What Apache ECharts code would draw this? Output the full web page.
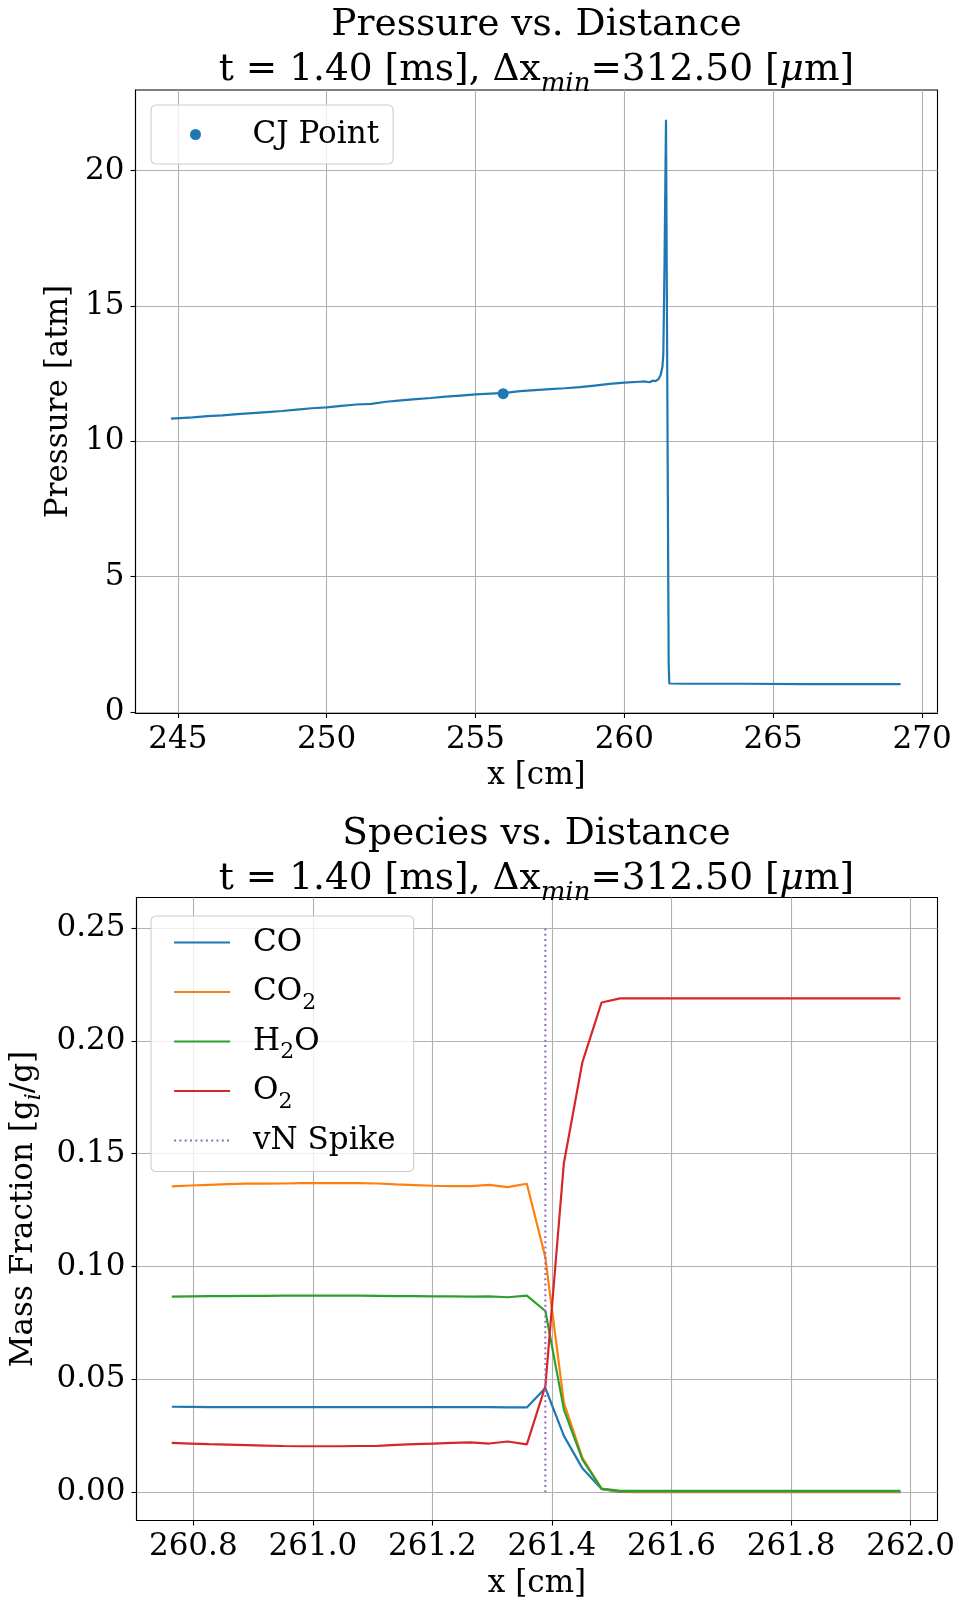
<!DOCTYPE html>
<html>
<head>
<meta charset="utf-8">
<script src="https://cdn.jsdelivr.net/npm/echarts@6/dist/echarts.min.js"></script>
<style>
  html, body { margin: 0; padding: 0; background: #ffffff; }
  #chart { width: 959px; height: 1602px; }
</style>
</head>
<body>
<div id="chart"></div>
<script>
// ---------- Pressure profile (top panel) ----------
const pressureX = [244.77, 245.5, 246.0, 246.5, 247.0, 247.5, 248.0, 248.5, 249.0, 249.5,
  250.0, 250.5, 251.0, 251.5, 252.0, 252.5, 253.0, 253.5, 254.0, 254.5,
  255.0, 255.5, 256.0, 256.5, 257.0, 257.5, 258.0, 258.5, 259.0, 259.5,
  260.0, 260.5, 260.7, 260.85, 260.95, 261.05, 261.15, 261.22, 261.28, 261.31,
  261.35, 261.40, 261.49, 261.51, 262.0, 264.0, 266.0, 268.0, 269.28];
const pressureY = [10.84, 10.88, 10.93, 10.96, 11.00, 11.04, 11.08, 11.12, 11.17, 11.22,
  11.25, 11.31, 11.36, 11.38, 11.46, 11.51, 11.56, 11.60, 11.65, 11.69,
  11.73, 11.76, 11.79, 11.85, 11.89, 11.93, 11.96, 12.00, 12.06, 12.12,
  12.17, 12.20, 12.21, 12.18, 12.24, 12.22, 12.30, 12.45, 12.75, 13.20,
  16.50, 21.88, 1.80, 1.05, 1.04, 1.04, 1.03, 1.03, 1.03];
const cjPoint = [255.93, 11.76];
const topXTicks = [245, 250, 255, 260, 265, 270];
const topYTicks = [0, 5, 10, 15, 20];

// ---------- Species mass fractions (bottom panel) ----------
const speciesX = [260.764, 260.795, 260.826, 260.858, 260.889, 260.920, 260.951, 260.983,
  261.014, 261.045, 261.076, 261.108, 261.139, 261.170, 261.201, 261.233,
  261.264, 261.295, 261.326, 261.358, 261.389, 261.420, 261.451, 261.483,
  261.514, 261.545, 261.576, 261.608, 261.639, 261.670, 261.701, 261.733,
  261.764, 261.795, 261.826, 261.858, 261.889, 261.920, 261.951, 261.983];
const yCO = [0.0379, 0.0378, 0.0377, 0.0377, 0.0377, 0.0377, 0.0377, 0.0377,
  0.0377, 0.0377, 0.0377, 0.0377, 0.0377, 0.0377, 0.0377, 0.0377,
  0.0377, 0.0377, 0.0376, 0.0376, 0.0462, 0.0250, 0.0106, 0.0014,
  0.0002, 0.0001, 0.0001, 0.0001, 0.0001, 0.0001, 0.0001, 0.0001,
  0.0001, 0.0001, 0.0001, 0.0001, 0.0001, 0.0001, 0.0001, 0.0001];
const yCO2 = [0.1355, 0.1359, 0.1362, 0.1365, 0.1367, 0.1367, 0.1368, 0.1370,
  0.1370, 0.1370, 0.1370, 0.1368, 0.1364, 0.1361, 0.1358, 0.1356,
  0.1356, 0.1362, 0.1352, 0.1367, 0.1040, 0.0396, 0.0153, 0.0015,
  0.0004, 0.0003, 0.0003, 0.0003, 0.0003, 0.0003, 0.0003, 0.0003,
  0.0003, 0.0003, 0.0003, 0.0003, 0.0003, 0.0003, 0.0003, 0.0003];
const yH2O = [0.0867, 0.0868, 0.0869, 0.0869, 0.0870, 0.0870, 0.0871, 0.0871,
  0.0871, 0.0871, 0.0871, 0.0870, 0.0869, 0.0869, 0.0868, 0.0868,
  0.0867, 0.0868, 0.0864, 0.0871, 0.0803, 0.0366, 0.0145, 0.0016,
  0.0006, 0.0006, 0.0006, 0.0006, 0.0006, 0.0006, 0.0006, 0.0006,
  0.0006, 0.0006, 0.0006, 0.0006, 0.0006, 0.0006, 0.0006, 0.0006];
const yO2 = [0.0219, 0.0216, 0.0213, 0.0211, 0.0209, 0.0207, 0.0205, 0.0204,
  0.0204, 0.0204, 0.0205, 0.0206, 0.0210, 0.0213, 0.0216, 0.0219,
  0.0221, 0.0216, 0.0225, 0.0212, 0.0470, 0.1459, 0.1906, 0.2170,
  0.2188, 0.2188, 0.2188, 0.2188, 0.2188, 0.2188, 0.2188, 0.2188,
  0.2188, 0.2188, 0.2188, 0.2188, 0.2188, 0.2188, 0.2188, 0.2188];
const vnSpikeX = 261.389;
const vnSpikeY = [0, 0.25];
const bottomXTicks = [260.8, 261.0, 261.2, 261.4, 261.6, 261.8, 262.0];
const bottomYTicks = [0, 0.05, 0.10, 0.15, 0.20, 0.25];

// ---------- styling ----------
const FONT = 'DejaVu Serif';
const FS = 31;
const TFS = 37.5;
const LW = 2.2;
const C = { blue: '#1f77b4', orange: '#ff7f0e', green: '#2ca02c', red: '#d62728', purple: '#9467bd' };
const zip = (xs, ys) => xs.map((x, i) => [x, ys[i]]);

function valueAxis(gridIndex, min, max, ticks, fmt, margin, name, nameGap, extra) {
  return Object.assign({
    type: 'value', gridIndex, min, max, scale: true,
    axisLine: { show: true, onZero: false, lineStyle: { color: '#000', width: 1.1 } },
    axisTick: { show: true, inside: false, length: 5, customValues: ticks, lineStyle: { color: '#000', width: 1.1 } },
    axisLabel: { customValues: ticks, formatter: fmt, color: '#000', fontFamily: FONT, fontSize: FS, margin },
    splitLine: { show: true, lineStyle: { color: '#b0b0b0', width: 1.1 } },
    name, nameLocation: 'middle', nameGap,
    nameTextStyle: { color: '#000', fontFamily: FONT, fontSize: FS }
  }, extra || {});
}

// subscript fragments sit lower than the main text on the same line
const subRich = {
  m: { fontFamily: FONT, fontSize: FS, color: '#000', lineHeight: 36, verticalAlign: 'middle' },
  s: { fontFamily: FONT, fontSize: 22, color: '#000', lineHeight: 44, verticalAlign: 'bottom' },
  si: { fontFamily: FONT, fontSize: 22, fontStyle: 'italic', color: '#000', lineHeight: 44, verticalAlign: 'bottom' }
};
// every entry carries a subscript slot so all rows share the same height
const legendLabels = {
  'CJ Point': '{m|CJ Point}',
  'CO': '{m|CO}{s| }',
  'CO2': '{m|CO}{s|2}',
  'H2O': '{m|H}{s|2}{m|O}',
  'O2': '{m|O}{s|2}',
  'vN Spike': '{m|vN Spike}{s| }'
};
const legendBase = {
  orient: 'vertical',
  backgroundColor: 'rgba(255,255,255,0.8)',
  borderColor: '#cccccc', borderWidth: 1.1, borderRadius: 5,
  formatter: (n) => legendLabels[n],
  textStyle: { fontFamily: FONT, fontSize: FS, color: '#000', rich: subRich }
};

const titleRich = {
  m: { fontFamily: FONT, fontSize: TFS, fill: '#000', lineHeight: 46, verticalAlign: 'middle' },
  mi: { fontFamily: FONT, fontSize: TFS, fontStyle: 'italic', fill: '#000', lineHeight: 46, verticalAlign: 'middle' },
  s: { fontFamily: FONT, fontSize: 26, fontStyle: 'italic', fill: '#000', lineHeight: 54, verticalAlign: 'bottom' }
};
const subtitle = '{m|t = 1.40 [ms], Δx}{s|min}{m|=312.50 [}{mi|μ}{m|m]}';
function titleText(y, text, rich) {
  return {
    type: 'text', x: 536.5, y, z: 10,
    style: { text, fontFamily: FONT, fontSize: TFS, fill: '#000', align: 'center', verticalAlign: 'middle', rich }
  };
}

const option = {
  animation: false,
  backgroundColor: '#ffffff',
  graphic: [
    titleText(25, 'Pressure vs. Distance'),
    titleText(70, subtitle, titleRich),
    titleText(834, 'Species vs. Distance'),
    titleText(879, subtitle, titleRich)
  ],
  grid: [
    { left: 135.5, top: 90, width: 802, height: 623, show: true, borderColor: '#000', borderWidth: 1.1, backgroundColor: 'transparent' },
    { left: 135.5, top: 897.5, width: 802, height: 623, show: true, borderColor: '#000', borderWidth: 1.1, backgroundColor: 'transparent' }
  ],
  xAxis: [
    valueAxis(0, 243.58, 270.52, topXTicks, (v) => String(Math.round(v)), 11, 'x [cm]', 47),
    valueAxis(1, 260.705, 262.045, bottomXTicks, (v) => v.toFixed(1), 11, 'x [cm]', 48)
  ],
  yAxis: [
    valueAxis(0, -0.04, 22.98, topYTicks, (v) => String(Math.round(v)), 11, 'Pressure [atm]', 61),
    valueAxis(1, -0.0125, 0.2635, bottomYTicks, (v) => v.toFixed(2), 11,
      '{m|Mass Fraction [g}{si|i}{m|/g]}', 91,
      { nameTextStyle: { color: '#000', fontFamily: FONT, fontSize: FS, rich: subRich } })
  ],
  legend: [
    Object.assign({}, legendBase, {
      data: ['CJ Point'], left: 151, top: 105, itemWidth: 56, itemHeight: 11,
      padding: [14, 14, 14, 39],
      textStyle: Object.assign({}, legendBase.textStyle, { padding: [0, 0, 0, 24] })
    }),
    Object.assign({}, legendBase, {
      data: ['CO', 'CO2', 'H2O', 'O2', 'vN Spike'], left: 151, top: 916, itemWidth: 56, itemHeight: 14,
      itemGap: 12, padding: [11, 11, 9, 22],
      itemStyle: { opacity: 0 },
      lineStyle: { width: LW },
      textStyle: Object.assign({}, legendBase.textStyle, { padding: [0, 0, 0, 18] })
    })
  ],
  series: [
    {
      name: 'Pressure', type: 'line', xAxisIndex: 0, yAxisIndex: 0,
      data: zip(pressureX, pressureY), symbol: 'none', showSymbol: false,
      lineStyle: { color: C.blue, width: LW }, itemStyle: { color: C.blue }, z: 3
    },
    {
      name: 'CJ Point', type: 'scatter', xAxisIndex: 0, yAxisIndex: 0,
      data: [cjPoint], symbol: 'circle', symbolSize: 11,
      itemStyle: { color: C.blue, opacity: 1 }, z: 4
    },
    ...[['CO', yCO, C.blue], ['CO2', yCO2, C.orange], ['H2O', yH2O, C.green], ['O2', yO2, C.red]].map(([n, ys, c]) => ({
      name: n, type: 'line', xAxisIndex: 1, yAxisIndex: 1,
      data: zip(speciesX, ys), symbol: 'none', showSymbol: false,
      lineStyle: { color: c, width: LW }, itemStyle: { color: c }, z: 3
    })),
    {
      name: 'vN Spike', type: 'line', xAxisIndex: 1, yAxisIndex: 1,
      data: vnSpikeY.map((y) => [vnSpikeX, y]), symbol: 'none', showSymbol: false,
      lineStyle: { color: C.purple, width: 2, type: [2, 3.3] }, itemStyle: { color: C.purple }, z: 3
    }
  ]
};

const chart = echarts.init(document.getElementById('chart'), null, { renderer: 'canvas', width: 959, height: 1602 });
chart.setOption(option);
</script>
</body>
</html>
